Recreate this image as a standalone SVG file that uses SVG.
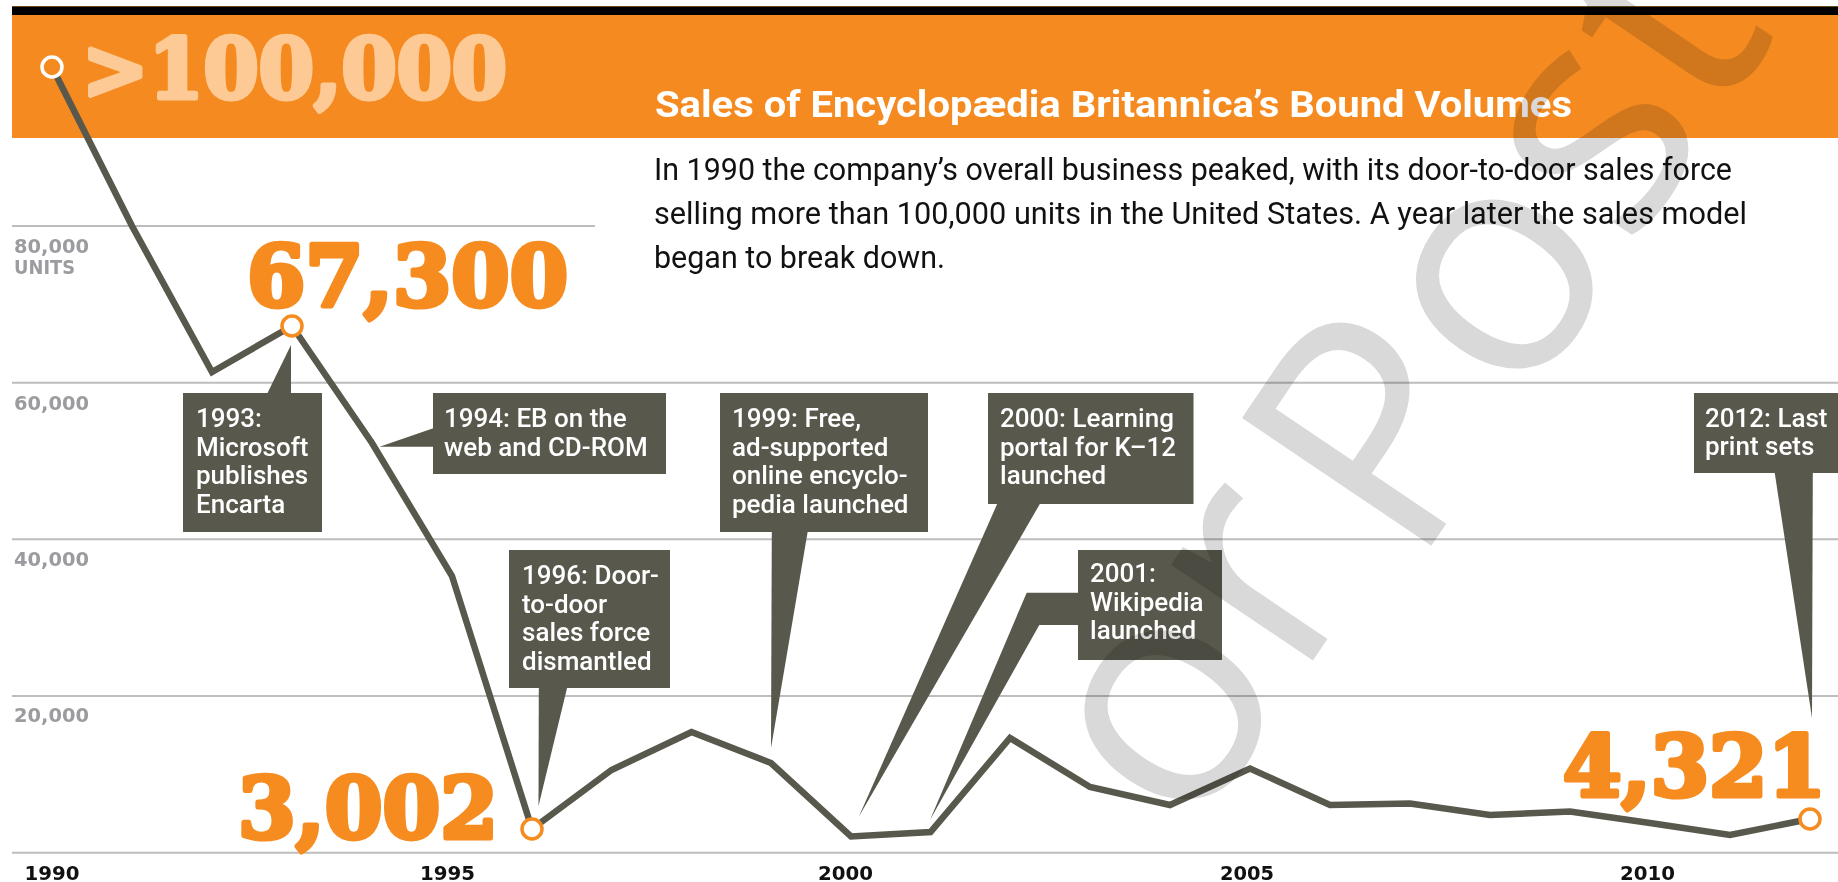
<svg xmlns="http://www.w3.org/2000/svg" width="1838" height="882" viewBox="0 0 1838 882">
<style>
.grid{stroke:#bdbdbd;stroke-width:2;fill:none}
.ylab{font-family:"DejaVu Sans",sans-serif;font-weight:bold;font-size:20px;fill:#9b9ba0}
.xlab{font-family:"DejaVu Sans",sans-serif;font-weight:bold;font-size:19.5px;fill:#111}
.big{font-family:"DejaVu Serif",serif;font-weight:bold;fill:#f68b1f;stroke:#f68b1f;stroke-width:5;stroke-linejoin:round}
.box{fill:#58584c}
.ct{font-family:Roboto,"Liberation Sans",sans-serif;font-weight:500;font-size:26px;fill:#fff}
.body{font-family:Roboto,"Liberation Sans",sans-serif;font-size:31px;fill:#111}
.title{font-family:Roboto,"Liberation Sans",sans-serif;font-weight:700;font-size:36px;fill:#fff}
.dot{fill:#fff;stroke:#f68b1f;stroke-width:3.5}
.wm{font-family:"Open Sans",sans-serif;font-size:320px;fill:#d9d9d9;mix-blend-mode:multiply}
</style>
<rect x="0" y="0" width="1838" height="882" fill="#fff"/>
<g id="header">
<rect x="12" y="6" width="1826" height="1.5" fill="#6b4a1f"/>
<rect x="12" y="7" width="1826" height="8" fill="#000"/>
<rect x="12" y="15" width="1826" height="123" fill="#f58b20"/>
<text class="title" x="655" y="117" textLength="917" lengthAdjust="spacingAndGlyphs">Sales of Encyclopædia Britannica’s Bound Volumes</text>
</g>
<g id="intro">
<text class="body" x="654" y="180" textLength="1078" lengthAdjust="spacingAndGlyphs">In 1990 the company’s overall business peaked, with its door-to-door sales force</text>
<text class="body" x="654" y="224" textLength="1093" lengthAdjust="spacingAndGlyphs">selling more than 100,000 units in the United States. A year later the sales model</text>
<text class="body" x="654" y="268" textLength="291" lengthAdjust="spacingAndGlyphs">began to break down.</text>
</g>
<g id="grid">
<line class="grid" x1="12" y1="226" x2="595" y2="226"/>
<line class="grid" x1="12" y1="382.7" x2="1838" y2="382.7"/>
<line class="grid" x1="12" y1="539.3" x2="1838" y2="539.3"/>
<line class="grid" x1="12" y1="696" x2="1838" y2="696"/>
<line class="grid" x1="12" y1="852.7" x2="1838" y2="852.7"/>
<text class="ylab" x="14" y="253" textLength="75" lengthAdjust="spacingAndGlyphs">80,000</text>
<text class="ylab" x="14" y="274" textLength="61" lengthAdjust="spacingAndGlyphs">UNITS</text>
<text class="ylab" x="14" y="410" textLength="75" lengthAdjust="spacingAndGlyphs">60,000</text>
<text class="ylab" x="14" y="566" textLength="75" lengthAdjust="spacingAndGlyphs">40,000</text>
<text class="ylab" x="14" y="722" textLength="75" lengthAdjust="spacingAndGlyphs">20,000</text>
<text class="xlab" x="24.5" y="880" textLength="55" lengthAdjust="spacingAndGlyphs">1990</text>
<text class="xlab" x="420" y="880" textLength="55" lengthAdjust="spacingAndGlyphs">1995</text>
<text class="xlab" x="818" y="880" textLength="55" lengthAdjust="spacingAndGlyphs">2000</text>
<text class="xlab" x="1220" y="880" textLength="54" lengthAdjust="spacingAndGlyphs">2005</text>
<text class="xlab" x="1620" y="880" textLength="55" lengthAdjust="spacingAndGlyphs">2010</text>
</g>
<g id="connectors">
<polyline fill="none" stroke="#58584c" stroke-width="6.5" stroke-linejoin="miter" stroke-miterlimit="10" points="52,67 132,226 212,372 292,326 372,443 452,576 532,829 611.5,770 691.5,732 771,763 851,836.5 930.5,832 1010,738 1090,787 1170,805 1250,768.5 1330,805 1410,803.5 1490,815 1570,811.5 1650,823 1730,835 1810,819"/>
</g>
<g id="c1993">
<polygon class="box" points="267,394 291,394 291,345"/>
<rect class="box" x="183" y="393" width="139" height="139"/>
<text class="ct"><tspan x="196" y="427">1993:</tspan><tspan x="196" y="455.7">Microsoft</tspan><tspan x="196" y="484.4">publishes</tspan><tspan x="196" y="513">Encarta</tspan></text>
</g>
<g id="c1994">
<polygon class="box" points="434,428 379.6,446.7 434,446.7"/>
<rect class="box" x="433" y="393" width="233" height="81"/>
<text class="ct"><tspan x="444" y="427">1994: EB on the</tspan><tspan x="444" y="455.5">web and CD-ROM</tspan></text>
</g>
<g id="c1996">
<polygon class="box" points="538.8,687 567.3,687 538.5,806"/>
<rect class="box" x="509" y="550" width="161" height="138"/>
<text class="ct"><tspan x="522" y="584">1996: Door-</tspan><tspan x="522" y="612.7">to-door</tspan><tspan x="522" y="641.4">sales force</tspan><tspan x="522" y="670">dismantled</tspan></text>
</g>
<g id="c1999">
<polygon class="box" points="771.8,531 807.8,531 771,748"/>
<rect class="box" x="720" y="393" width="208" height="139"/>
<text class="ct"><tspan x="732" y="427">1999: Free,</tspan><tspan x="732" y="455.5">ad-supported</tspan><tspan x="732" y="484">online encyclo-</tspan><tspan x="732" y="512.7">pedia launched</tspan></text>
</g>
<g id="c2000">
<polygon class="box" points="997.6,503 1040.4,503 858.8,816.7"/>
<rect class="box" x="988" y="393" width="205.5" height="111"/>
<text class="ct"><tspan x="1000" y="427">2000: Learning</tspan><tspan x="1000" y="455.5">portal for K–12</tspan><tspan x="1000" y="484">launched</tspan></text>
</g>
<g id="c2001">
<polygon class="box" points="1079,592.7 1026.7,592.7 930,820 1039.3,625 1079,625"/>
<rect class="box" x="1078" y="550" width="144" height="110"/>
<text class="ct"><tspan x="1090" y="582">2001:</tspan><tspan x="1090" y="610.5">Wikipedia</tspan><tspan x="1090" y="639">launched</tspan></text>
</g>
<g id="c2012">
<polygon class="box" points="1774.6,472 1812.8,472 1812,718"/>
<rect class="box" x="1694" y="393" width="144" height="80"/>
<text class="ct"><tspan x="1705" y="426.5">2012: Last</tspan><tspan x="1705" y="455">print sets</tspan></text>
</g>
<g id="values">
<text class="big" x="82" y="98" font-size="83" style="fill:#fdca96;stroke:#fdca96" textLength="425" lengthAdjust="spacingAndGlyphs">&gt;100,000</text>
<text class="big" x="247" y="306" font-size="84" textLength="321" lengthAdjust="spacingAndGlyphs">67,300</text>
<text class="big" x="238" y="838" font-size="85" textLength="260" lengthAdjust="spacingAndGlyphs">3,002</text>
<text class="big" x="1563" y="796" font-size="84" textLength="263" lengthAdjust="spacingAndGlyphs">4,321</text>
</g>
<g id="points">
<circle cx="52" cy="67" r="10" fill="#f58b20" stroke="#fff" stroke-width="3.5"/>
<circle class="dot" cx="292" cy="326" r="10"/>
<circle class="dot" cx="532" cy="829" r="10"/>
<circle class="dot" cx="1810" cy="819" r="10"/>
</g>
<g id="watermark">
<text class="wm" transform="translate(1415,570) rotate(-56)"><tspan x="-352" y="-34">or</tspan><tspan x="-2" y="0">Post</tspan></text>
</g>
</svg>
